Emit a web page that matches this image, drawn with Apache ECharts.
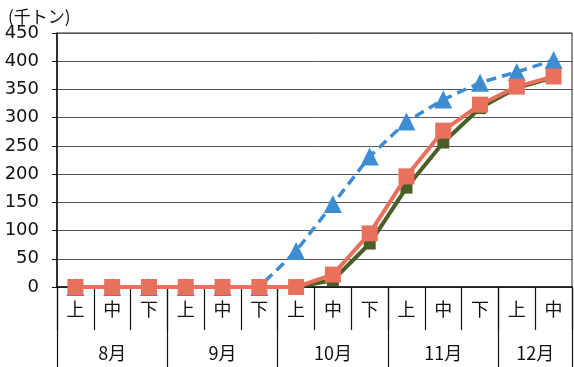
<!DOCTYPE html>
<html>
<head>
<meta charset="utf-8">
<script src="https://cdn.jsdelivr.net/npm/echarts@6/dist/echarts.min.js"></script>
<style>
html, body { margin: 0; padding: 0; background: #fff; }
#main { width: 574px; height: 367px; }
</style>
</head>
<body>
<div id="main"></div>
<script>
// 旬ごとの区分
var junbun = ['上', '中', '下', '上', '中', '下', '上', '中', '下', '上', '中', '下', '上', '中'];
var tsuki = ['8月', '9月', '10月', '11月', '12月'];
var tsukiPos = [1.5, 4.5, 7.5, 10.5, 13];   // 月ラベルの位置(旬単位)
var tsukiKiri = [0, 3, 6, 9, 12, 14];       // 月の区切り

var yTicks = [0, 50, 100, 150, 200, 250, 300, 350, 400, 450];

// 系列データ(千トン)
var aoData = [0, 0, 0, 0, 0, 0, 64, 147, 231, 293, 332, 362, 381, 402];
var midoriData = [0, 0, 0, 0, 0, 0, 0, 12, 77, 176, 256, 317, 353, 371];
var akaData = [0, 0, 0, 0, 0, 0, 0, 22, 95, 196, 277, 323, 355, 373];

var font = '"Noto Sans CJK JP", "Noto Sans", sans-serif';
var numFont = '"DejaVu Sans", sans-serif';
var myChart = echarts.init(document.getElementById('main'));

var option = {
    animation: false,
    backgroundColor: '#fff',
    title: {
        text: '(千トン)',
        left: 3,
        top: 3,
        textStyle: { fontFamily: font, fontSize: 17, fontWeight: 'normal', color: '#111' }
    },
    grid: {
        left: 57, right: 2, top: 33, bottom: 80,
        show: true, borderColor: '#222', borderWidth: 1
    },
    xAxis: [{
        type: 'category',
        data: junbun,
        boundaryGap: true,
        axisLine: { lineStyle: { color: '#111', width: 1.5 } },
        axisTick: { show: true, interval: 0, length: 43, lineStyle: { color: '#111', width: 1.2 } },
        axisLabel: { interval: 0, margin: 13, fontFamily: font, fontSize: 18, color: '#111' },
        splitLine: { show: false }
    }, {
        type: 'value',
        min: 0,
        max: 14,
        position: 'bottom',
        axisLine: { show: false },
        axisTick: { show: true, customValues: tsukiKiri, length: 80, lineStyle: { color: '#111', width: 1.2 } },
        axisLabel: {
            customValues: tsukiPos,
            margin: 57,
            fontFamily: font, fontSize: 18, color: '#111',
            formatter: function (v) {
                var i = tsukiPos.indexOf(v);
                return i >= 0 ? tsuki[i] : '';
            }
        },
        splitLine: { show: false }
    }],
    yAxis: {
        type: 'value',
        min: yTicks[0],
        max: yTicks[yTicks.length - 1],
        interval: 50,
        axisLine: { show: true, lineStyle: { color: '#111', width: 1.5 } },
        axisTick: { show: true, length: 5, lineStyle: { color: '#111' } },
        axisLabel: { margin: 18, fontFamily: numFont, fontSize: 18, color: '#111' },
        splitLine: { lineStyle: { color: '#555', width: 1 } }
    },
    series: [{
        type: 'line',
        data: aoData,
        symbol: 'triangle',
        symbolSize: 18,
        itemStyle: { color: '#3d8dd2' },
        lineStyle: { color: '#3d8dd2', width: 3.5, type: [10, 6] },
        z: 2
    }, {
        type: 'line',
        data: midoriData,
        symbol: 'rect',
        symbolSize: 12,
        itemStyle: { color: '#4a5f25' },
        lineStyle: { color: '#4a5f25', width: 4 },
        z: 3
    }, {
        type: 'line',
        data: akaData,
        symbol: 'rect',
        symbolSize: 16,
        itemStyle: { color: '#e8705c' },
        lineStyle: { color: '#e8705c', width: 4 },
        z: 4
    }]
};

myChart.setOption(option);
</script>
</body>
</html>
